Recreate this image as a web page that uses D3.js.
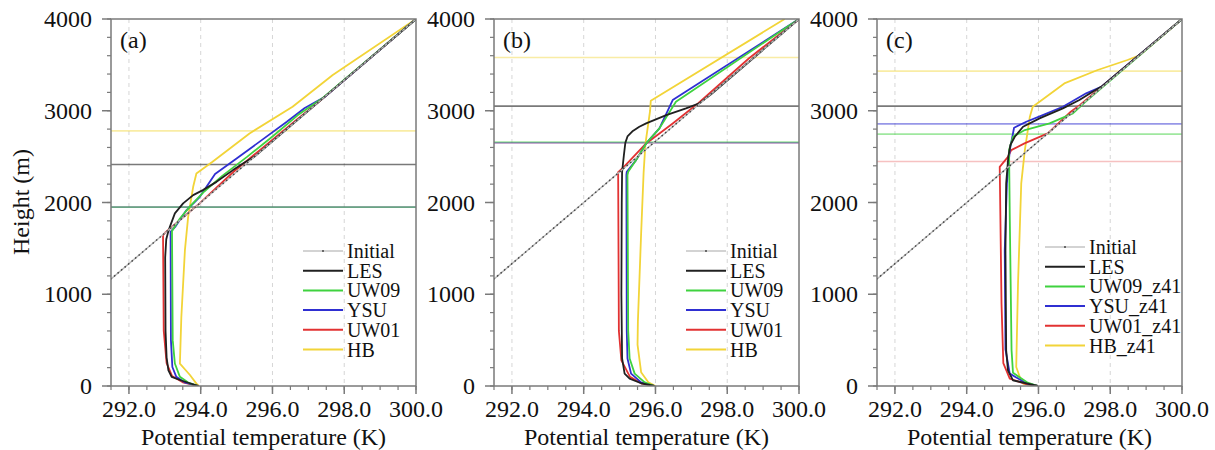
<!DOCTYPE html>
<html>
<head>
<meta charset="utf-8">
<script src="https://cdn.jsdelivr.net/npm/d3@7"></script>
<style>
  html, body { margin: 0; padding: 0; background: #fff; }
  svg { display: block; }
</style>
</head>
<body>
<svg id="chart" width="1215" height="450" font-family="'Liberation Serif', 'DejaVu Serif', serif"></svg>
<script>
// Axis ticks
const thetaTicks = [292, 294, 296, 298, 300];
const thetaMinor = d3.range(291.5, 300.01, 0.5);
const heightTicks = [0, 1000, 2000, 3000, 4000];
const heightMinor = d3.range(0, 4001, 200);

// Initial sounding [theta (K), height (m)]
const initialProfile = [[291, 1000], [294, 2000], [297, 3000], [300, 4000]];

// Series names and colours
const seriesKeys = ["LES", "UW09", "YSU", "UW01", "HB"];
const seriesColors = ["#202020", "#3fd23f", "#2f2fd2", "#e23232", "#f2d438"];
const legendA = ["Initial", "LES", "UW09", "YSU", "UW01", "HB"];
const legendB = ["Initial", "LES", "UW09", "YSU", "UW01", "HB"];
const legendC = ["Initial", "LES", "UW09_z41", "YSU_z41", "UW01_z41", "HB_z41"];

// Panel (a) profiles [theta, height]
const a_LES = [[293.94,0],[293.46,60],[293.19,100],[293.1,170],[293.05,310],[293.02,600],[293.01,1400],[293.04,1600],[293.08,1660],[293.14,1735],[293.28,1881],[293.51,1990],[293.79,2080],[294.06,2135],[294.44,2225],[294.9,2353],[295.2,2430],[295.5,2500],[300,4000]];
const a_UW09 = [[293.94,0],[293.65,37],[293.42,100],[293.28,245],[293.22,500],[293.2,1690],[293.42,1826],[293.69,1953],[294.1,2120],[294.6,2290],[295.3,2500],[296.0,2720],[296.7,2950],[297.4,3140],[300,4000]];
const a_YSU = [[293.94,0],[293.55,40],[293.32,100],[293.21,207],[293.17,500],[293.16,1680],[293.3,1740],[293.6,1915],[293.97,2060],[294.4,2310],[295.0,2480],[295.7,2680],[296.4,2880],[296.9,3030],[297.45,3150],[300,4000]];
const a_UW01 = [[293.94,0],[293.5,40],[293.2,110],[293.05,250],[292.97,600],[292.95,1644],[293.03,1680],[293.97,1990],[294.9,2330],[295.8,2620],[296.7,2910],[297.3,3100],[300,4000]];
const a_HB = [[293.95,0],[293.88,26],[293.7,120],[293.42,244],[293.46,750],[293.56,1480],[293.65,1844],[293.79,2171],[293.88,2317],[294.33,2444],[295.36,2753],[296.56,3044],[297.68,3389],[300,4000]];
// Panel (a) boundary-layer heights (m): LES, UW09, YSU, UW01, HB
const a_pbl = [2414, 1950, 1950, 1950, 2781];

// Panel (b) profiles
const b_LES = [[295.97,0],[295.6,30],[295.28,80],[295.14,135],[295.07,300],[295.05,1000],[295.06,2000],[295.07,2334],[295.12,2516],[295.16,2650],[295.22,2720],[295.37,2780],[295.55,2825],[295.74,2862],[296.3,2953],[296.85,3026],[297.22,3080],[297.55,3180],[300,4000]];
const b_UW09 = [[295.97,0],[295.7,40],[295.42,135],[295.28,300],[295.24,600],[295.22,2300],[295.24,2334],[295.46,2462],[295.74,2644],[296.11,2808],[296.57,3098],[300,4000]];
const b_YSU = [[295.97,0],[295.6,40],[295.32,135],[295.22,300],[295.2,600],[295.19,2300],[295.2,2334],[295.46,2462],[295.74,2644],[296.11,2808],[296.48,3117],[300,4000]];
const b_UW01 = [[295.97,0],[295.6,30],[295.29,100],[295.05,280],[294.98,600],[294.96,2330],[295.1,2380],[295.74,2644],[296.48,2862],[297.13,3062],[298.6,3570],[300,4000]];
const b_HB = [[296.0,0],[295.8,40],[295.6,150],[295.5,450],[295.51,700],[295.6,1660],[295.67,2330],[295.72,2640],[295.85,3000],[295.87,3110],[299.6,4000]];
const b_pbl = [3050, 2660, 2652, 2650, 3581];

// Panel (c) profiles
const c_LES = [[295.98,0],[295.29,62],[295.15,171],[295.1,389],[295.08,1480],[295.1,2208],[295.16,2500],[295.22,2630],[295.34,2717],[295.57,2826],[296.03,2917],[296.68,3026],[297.14,3117],[297.51,3208],[297.78,3270],[300,4000]];
const c_UW09 = [[295.98,0],[295.7,36],[295.29,144],[295.25,389],[295.2,1844],[295.18,2571],[295.29,2717],[295.62,2790],[296.31,2862],[296.96,2971],[297.3,3095],[300,4000]];
const c_YSU = [[295.98,0],[295.66,30],[295.2,135],[295.08,400],[295.06,1480],[295.12,2208],[295.2,2571],[295.32,2815],[295.66,2880],[296.12,2953],[296.68,3044],[297.33,3190],[297.75,3260],[300,4000]];
const c_UW01 = [[295.98,0],[295.66,20],[295.2,80],[295.02,250],[294.97,900],[294.92,2389],[295.15,2498],[295.24,2571],[295.61,2644],[296.26,2753],[296.9,2989],[297.15,3060],[300,4000]];
const c_HB = [[295.98,0],[295.57,26],[295.48,98],[295.38,207],[295.43,1117],[295.52,2208],[295.62,2571],[295.76,2935],[295.84,3044],[296.72,3298],[297.65,3444],[298.48,3553],[298.8,3600],[300,4000]];
const c_pbl = [3050, 2745, 2857, 2447, 3432];

const panels = [
  { tag: "(a)", left: 111, series: [a_LES, a_UW09, a_YSU, a_UW01, a_HB], pbl: a_pbl, legend: legendA, legX: 192, legY: 251 },
  { tag: "(b)", left: 494, series: [b_LES, b_UW09, b_YSU, b_UW01, b_HB], pbl: b_pbl, legend: legendB, legX: 192, legY: 251 },
  { tag: "(c)", left: 877, series: [c_LES, c_UW09, c_YSU, c_UW01, c_HB], pbl: c_pbl, legend: legendC, legX: 168, legY: 247 }
];

const svg = d3.select("#chart");
const serif = "'Liberation Serif', 'DejaVu Serif', serif";
const plotTop = 19, plotBottom = 386, plotWidth = 305;
const axisColor = "#7a7a7a";

const y = d3.scaleLinear().domain([0, 4000]).range([plotBottom, plotTop]);

// boundary-layer line draw order and opacity (UW01 under YSU under UW09)
const pblOrder = [4, 3, 2, 1, 0];
const pblOpacity = [0.6, 0.5, 0.5, 0.3, 0.45];

panels.forEach((p, i) => {
  const x = d3.scaleLinear().domain([291.5, 300]).range([p.left, p.left + plotWidth]);
  const g = svg.append("g");
  const clipId = "clip" + i;
  g.append("clipPath").attr("id", clipId)
    .append("rect").attr("x", p.left).attr("y", plotTop).attr("width", plotWidth).attr("height", plotBottom - plotTop);

  // vertical dashed grid
  g.selectAll(".grid").data(thetaTicks.filter(t => t < 300)).join("line")
    .attr("x1", d => x(d)).attr("x2", d => x(d))
    .attr("y1", plotTop).attr("y2", plotBottom)
    .attr("stroke", "#d6d6d6").attr("stroke-width", 1).attr("stroke-dasharray", "4,4");

  const plot = g.append("g").attr("clip-path", `url(#${clipId})`);

  // boundary-layer height lines
  pblOrder.forEach(k => {
    plot.append("line")
      .attr("x1", p.left).attr("x2", p.left + plotWidth)
      .attr("y1", y(p.pbl[k])).attr("y2", y(p.pbl[k]))
      .attr("stroke", seriesColors[k])
      .attr("stroke-opacity", pblOpacity[k])
      .attr("stroke-width", 1.6);
  });

  const line = d3.line().x(d => x(d[0])).y(d => y(d[1]));

  // profiles
  [4, 3, 2, 1, 0].forEach(k => {
    plot.append("path").datum(p.series[k])
      .attr("d", line).attr("fill", "none")
      .attr("stroke", seriesColors[k]).attr("stroke-width", 1.8)
      .attr("stroke-linejoin", "round");
  });

  // initial sounding: light line with dark dotted overlay
  plot.append("path").datum(initialProfile).attr("d", line)
    .attr("fill", "none").attr("stroke", "#b8b8b8").attr("stroke-width", 1.4);
  plot.append("path").datum(initialProfile).attr("d", line)
    .attr("fill", "none").attr("stroke", "#444").attr("stroke-width", 1.4)
    .attr("stroke-dasharray", "1.6,3");

  // frame
  g.append("rect").attr("x", p.left).attr("y", plotTop).attr("width", plotWidth).attr("height", plotBottom - plotTop)
    .attr("fill", "none").attr("stroke", axisColor).attr("stroke-width", 1.5);

  // x axis ticks
  g.selectAll(".xminor").data(thetaMinor).join("line")
    .attr("x1", d => x(d)).attr("x2", d => x(d))
    .attr("y1", plotBottom).attr("y2", plotBottom + 4)
    .attr("stroke", axisColor).attr("stroke-width", 1.2);
  g.selectAll(".xmajor").data(thetaTicks).join("line")
    .attr("x1", d => x(d)).attr("x2", d => x(d))
    .attr("y1", plotBottom).attr("y2", plotBottom + 8)
    .attr("stroke", axisColor).attr("stroke-width", 1.5);
  g.selectAll(".xlabel").data(thetaTicks).join("text")
    .attr("x", d => x(d)).attr("y", 417)
    .attr("text-anchor", "middle").attr("font-size", 24)
    .attr("font-family", serif).attr("fill", "#111")
    .text(d => d.toFixed(1));

  // y axis ticks
  g.selectAll(".yminor").data(heightMinor).join("line")
    .attr("x1", p.left - 4).attr("x2", p.left)
    .attr("y1", d => y(d)).attr("y2", d => y(d))
    .attr("stroke", axisColor).attr("stroke-width", 1.2);
  g.selectAll(".ymajor").data(heightTicks).join("line")
    .attr("x1", p.left - 9).attr("x2", p.left)
    .attr("y1", d => y(d)).attr("y2", d => y(d))
    .attr("stroke", axisColor).attr("stroke-width", 1.5);
  g.selectAll(".ylabel").data(heightTicks).join("text")
    .attr("x", p.left - 19).attr("y", d => y(d) + 8)
    .attr("text-anchor", "end").attr("font-size", 24)
    .attr("font-family", serif).attr("fill", "#111")
    .text(d => d);

  // axis title
  g.append("text").attr("x", p.left + plotWidth / 2).attr("y", 445)
    .attr("text-anchor", "middle").attr("font-size", 24)
    .attr("font-family", serif).attr("fill", "#111")
    .text("Potential temperature (K)");

  // panel tag
  g.append("text").attr("x", p.left + 9).attr("y", 48)
    .attr("font-size", 24).attr("font-family", serif).attr("fill", "#111")
    .text(p.tag);

  // legend
  const lg = g.append("g");
  const rowH = 19.7;
  p.legend.forEach((name, r) => {
    const ly = p.legY + r * rowH;
    const x0 = p.left + p.legX, x1 = x0 + 40;
    if (r === 0) {
      lg.append("line").attr("x1", x0).attr("x2", x1).attr("y1", ly).attr("y2", ly)
        .attr("stroke", "#c4c4c4").attr("stroke-width", 1.6);
      lg.append("circle").attr("cx", (x0 + x1) / 2).attr("cy", ly).attr("r", 1)
        .attr("fill", "#444");
    } else {
      lg.append("line").attr("x1", x0).attr("x2", x1).attr("y1", ly).attr("y2", ly)
        .attr("stroke", seriesColors[r - 1]).attr("stroke-width", 2);
    }
    lg.append("text").attr("x", x1 + 4).attr("y", ly + 7)
      .attr("font-size", 20).attr("font-family", serif).attr("fill", "#111")
      .text(name);
  });
});

// y axis title (shared, left)
svg.append("text")
  .attr("transform", "translate(29,202) rotate(-90)")
  .attr("text-anchor", "middle").attr("font-size", 24)
  .attr("font-family", serif).attr("fill", "#111")
  .text("Height (m)");
</script>
</body>
</html>
